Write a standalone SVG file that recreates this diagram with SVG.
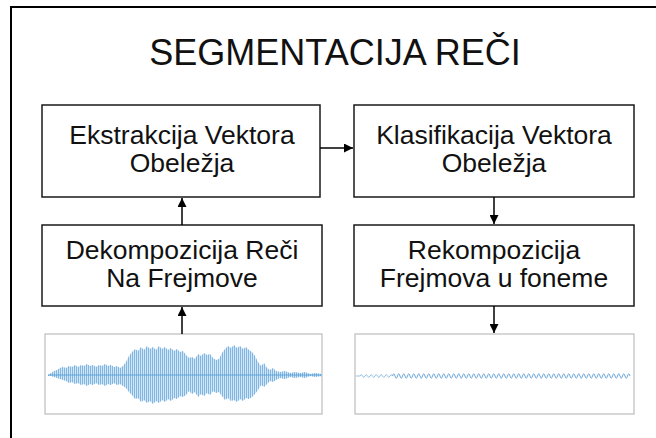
<svg xmlns="http://www.w3.org/2000/svg" width="656" height="438" viewBox="0 0 656 438">
<style>
.box{fill:#fff;stroke:#1a1a1a;stroke-width:1.5}
.lbl{font-family:"Liberation Sans",Arial,sans-serif;font-size:26.5px;fill:#111;text-anchor:middle}
.title{font-family:"Liberation Sans",Arial,sans-serif;font-size:36px;fill:#111;text-anchor:middle}
.con{stroke:#000;stroke-width:1.5;fill:none;marker-end:url(#ah)}
.plot{fill:#fff;stroke:#bdbdbd;stroke-width:1.2}
</style>
<defs>
<marker id="ah" viewBox="0 0 10 10" refX="10" refY="5" markerWidth="6" markerHeight="6" markerUnits="strokeWidth" orient="auto">
<path d="M0,0 L10,5 L0,10 z" fill="#000"/>
</marker>
<pattern id="vl" patternUnits="userSpaceOnUse" width="2" height="10">
<rect x="0" y="0" width="0.9" height="10" fill="#4f9ad6"/>
</pattern>
<path id="env" d="M48,375 L51,373 54,371 57,370 60,368 63,367 66,368 69,366 72,367 75,365 78,367 81,365 84,366 87,364 90,366 93,365 96,367 99,365 102,366 105,364 108,366 111,365 114,367 117,366 120,368 123,366 126,362 129,356 132,352 135,349 138,351 141,347 144,350 147,346 150,349 153,347 156,350 159,346 162,349 165,347 168,350 171,348 174,351 177,349 180,352 183,351 186,355 189,358 192,357 195,359 198,354 201,356 204,353 207,355 210,354 213,358 216,360 219,359 222,353 225,349 228,346 231,348 234,345 237,348 240,346 243,349 246,347 249,350 252,352 255,356 258,362 261,366 264,363 267,368 270,370 273,368 276,371 280,372 285,371 290,373 295,372 300,373 305,372 310,374 315,373 322,374 L322,376 315,377 310,376 305,378 300,377 295,378 290,377 285,379 280,378 276,380 273,382 270,381 267,384 264,387 261,385 258,390 255,394 252,397 249,399 246,398 243,401 240,399 237,402 234,400 231,401 228,398 225,400 222,396 219,392 216,393 213,391 210,395 207,393 204,396 201,394 198,397 195,392 192,394 189,391 186,395 183,397 180,396 177,399 174,398 171,401 168,399 165,402 162,400 159,403 156,401 153,404 150,401 147,403 144,400 141,402 138,398 135,399 132,395 129,392 126,388 123,386 120,384 117,385 114,383 111,385 108,384 105,386 102,384 99,385 96,383 93,385 90,384 87,386 84,384 81,385 78,383 75,384 72,382 69,383 66,381 63,380 60,379 57,378 54,377 51,376 48,376 Z"/>
</defs>
<rect x="11" y="7" width="700" height="500" fill="none" stroke="#000" stroke-width="2"/>
<text class="title" x="335" y="65">SEGMENTACIJA REČI</text>
<g id="n-ekstrakcija">
<rect class="box" x="42" y="105" width="278" height="92"/>
<text class="lbl" x="182" y="144">Ekstrakcija Vektora</text>
<text class="lbl" x="182" y="172">Obeležja</text>
</g>
<g id="n-klasifikacija">
<rect class="box" x="354" y="105" width="280" height="92"/>
<text class="lbl" x="494" y="144">Klasifikacija Vektora</text>
<text class="lbl" x="494" y="172">Obeležja</text>
</g>
<g id="n-dekompozicija">
<rect class="box" x="42" y="225" width="280" height="81"/>
<text class="lbl" x="182" y="259">Dekompozicija Reči</text>
<text class="lbl" x="182" y="287">Na Frejmove</text>
</g>
<g id="n-rekompozicija">
<rect class="box" x="354" y="225" width="280" height="81"/>
<text class="lbl" x="494" y="259">Rekompozicija</text>
<text class="lbl" x="494" y="287">Frejmova u foneme</text>
</g>
<g id="n-signal">
<rect class="plot" x="45" y="334" width="277" height="80"/>
<use href="#env" fill="#d3e6f5"/>
<use href="#env" fill="url(#vl)" opacity="0.7"/>
<line x1="48" y1="375" x2="322" y2="375" stroke="#4f9ad6" stroke-width="0.8"/>
</g>
<g id="n-fonemi">
<rect class="plot" x="355" y="334" width="279" height="80"/>
<path d="M356,376 L360,376 q1.25,-3 2.5,0 t2.5,0 t2.5,0 t2.5,0 t2.5,0 t2.5,0 t2.5,0 t2.5,0 t2.5,0 t2.5,0 t2.5,0 t2.5,0 t2.5,0" fill="none" stroke="#8abbe3" stroke-width="0.9"/>
<path d="M392.5,376 q1.25,-4.5 2.5,0 t2.5,0 t2.5,0 t2.5,0 t2.5,0 t2.5,0 t2.5,0 t2.5,0 t2.5,0 t2.5,0 t2.5,0 t2.5,0 t2.5,0 t2.5,0 t2.5,0 t2.5,0 t2.5,0 t2.5,0 t2.5,0 t2.5,0 t2.5,0 t2.5,0 t2.5,0 t2.5,0 t2.5,0 t2.5,0 t2.5,0 t2.5,0 t2.5,0 t2.5,0 t2.5,0 t2.5,0 t2.5,0 t2.5,0 t2.5,0 t2.5,0 t2.5,0 t2.5,0 t2.5,0 t2.5,0 t2.5,0 t2.5,0 t2.5,0 t2.5,0 t2.5,0 t2.5,0 t2.5,0 t2.5,0 t2.5,0 t2.5,0 t2.5,0 t2.5,0 t2.5,0 t2.5,0 t2.5,0 t2.5,0 t2.5,0 t2.5,0 t2.5,0 t2.5,0 t2.5,0 t2.5,0 t2.5,0 t2.5,0 t2.5,0 t2.5,0 t2.5,0 t2.5,0 t2.5,0 t2.5,0 t2.5,0 t2.5,0 t2.5,0 t2.5,0 t2.5,0 t2.5,0 t2.5,0 t2.5,0 t2.5,0 t2.5,0 t2.5,0 t2.5,0 t2.5,0 t2.5,0 t2.5,0 t2.5,0 t2.5,0 t2.5,0 t2.5,0 t2.5,0 t2.5,0 t2.5,0 t2.5,0 t2.5,0 t2.5,0" fill="none" stroke="#5b9bd5" stroke-width="0.9"/>
</g>
<g id="connectors">
<line class="con" x1="320" y1="148" x2="353" y2="148"/>
<line class="con" x1="182" y1="225" x2="182" y2="198"/>
<line class="con" x1="182" y1="334" x2="182" y2="307"/>
<line class="con" x1="494" y1="197" x2="494" y2="224"/>
<line class="con" x1="494" y1="306" x2="494" y2="333"/>
</g>
</svg>
